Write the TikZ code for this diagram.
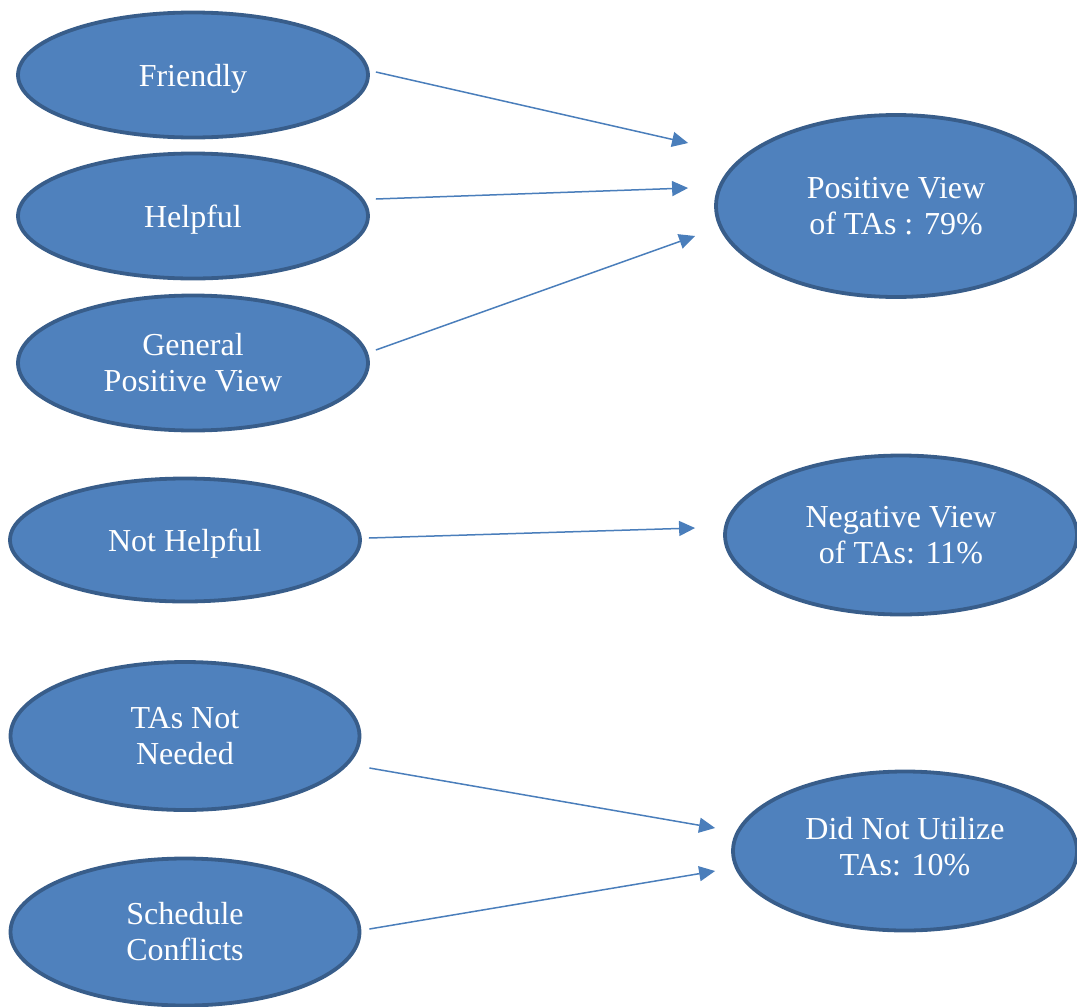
\documentclass[tikz,border=0pt]{standalone}
\usepackage{fontspec}
\setmainfont{Liberation Serif}
\usetikzlibrary{shapes.geometric,arrows.meta}

\definecolor{bubblefill}{HTML}{4F81BD}
\definecolor{bubbleline}{HTML}{385D8A}
\definecolor{linkcol}{HTML}{4A7EBB}

\tikzset{
  bubble/.style={ellipse,draw=bubbleline,fill=bubblefill,line width=3.8pt,
    text=white,align=center,inner sep=0pt,
    font=\fontsize{32}{36}\selectfont},
  link/.style={draw=linkcol,line width=1.5pt,
    -{Triangle[length=16pt,width=15pt]}}
}

\begin{document}
\begin{tikzpicture}[x=1pt,y=-1pt]
  \useasboundingbox (0,0) rectangle (1077,1007);

  % left column
  \node[bubble,minimum width=350,minimum height=125,text depth=0pt] (friendly) at (193,75) {Friendly};
  \node[bubble,minimum width=350,minimum height=125,text depth=0pt] (helpful) at (193,216) {Helpful};
  \node[bubble,minimum width=350,minimum height=135] (general) at (193,363) {General\\Positive View};
  \node[bubble,minimum width=350,minimum height=123,text depth=0pt] (nothelpful) at (185,540) {Not Helpful};
  \node[bubble,minimum width=349,minimum height=148] (notneeded) at (185,736) {TAs Not\\Needed};
  \node[bubble,minimum width=349,minimum height=147] (schedule) at (185,932) {Schedule\\Conflicts};

  % right column
  \node[bubble,minimum width=360,minimum height=182] (positive) at (896,206) {Positive View\\of TAs : 79\%};
  \node[bubble,minimum width=352,minimum height=159] (negative) at (901,535) {Negative View\\of TAs: 11\%};
  \node[bubble,minimum width=344,minimum height=159] (notused) at (905,851) {Did Not Utilize\\TAs: 10\%\\[-26pt]};

  % arrows
  \draw[link] ([xshift=6pt,yshift=3pt]friendly.east) -- ([xshift=-26pt,yshift=63pt]positive.west);
  \draw[link] ([xshift=6pt,yshift=17pt]helpful.east) -- ([xshift=-26pt,yshift=18pt]positive.west);
  \draw[link] ([xshift=6pt,yshift=13pt]general.east) -- ([xshift=-19pt,yshift=-30pt]positive.west);
  \draw[link] ([xshift=7pt,yshift=2pt]nothelpful.east) -- ([xshift=-28pt,yshift=7pt]negative.west);
  \draw[link] ([xshift=8pt,yshift=-32pt]notneeded.east) -- ([xshift=-16pt,yshift=23pt]notused.west);
  \draw[link] ([xshift=8pt,yshift=3pt]schedule.east) -- ([xshift=-16pt,yshift=-20pt]notused.west);
\end{tikzpicture}
\end{document}
